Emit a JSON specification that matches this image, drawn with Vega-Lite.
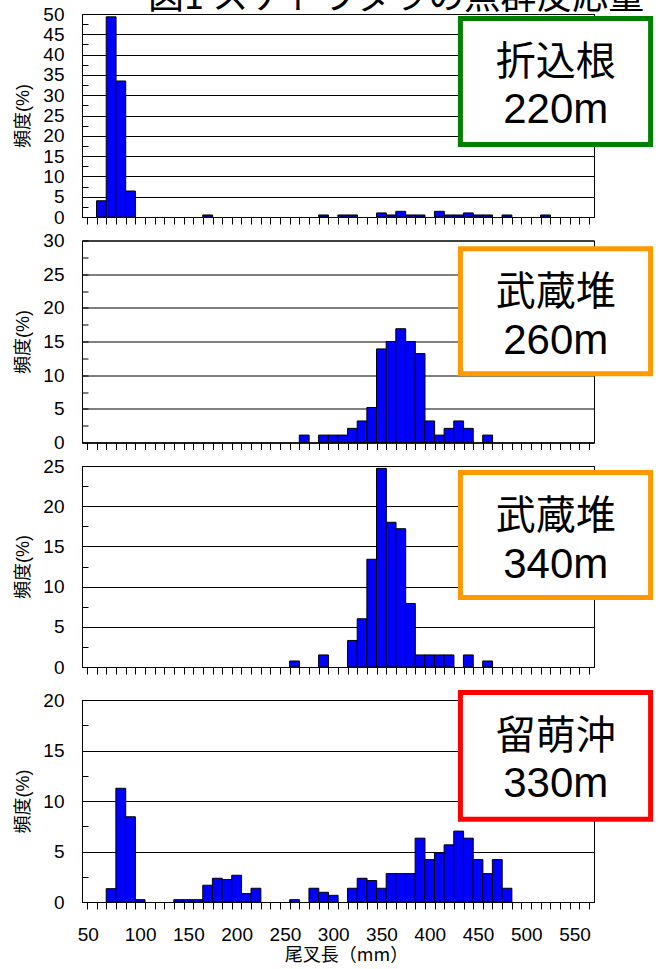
{
  "$schema": "https://vega.github.io/schema/vega-lite/v6.json",
  "padding": {"top": -21, "left": 14, "right": 2, "bottom": 2},
  "config": {
    "view": {"stroke": "#000000", "strokeWidth": 1},
    "axis": {
      "labelFont": "Liberation Sans",
      "labelFontSize": 19,
      "labelColor": "#000000",
      "titleFont": "Liberation Sans, Noto Sans CJK JP",
      "titleFontSize": 18,
      "titleFontWeight": "normal",
      "titleColor": "#000000",
      "domainColor": "#000000",
      "tickColor": "#000000",
      "gridColor": "#000000",
      "tickCount": 1000,
      "format": "d"
    }
  },
  "datasets": {
    "p1": [
      {"len": 60, "pct": 4.0}, {"len": 70, "pct": 49.3}, {"len": 80, "pct": 33.5}, {"len": 90, "pct": 6.4},
      {"len": 170, "pct": 0.5}, {"len": 290, "pct": 0.5}, {"len": 310, "pct": 0.5}, {"len": 320, "pct": 0.5},
      {"len": 350, "pct": 1.0}, {"len": 360, "pct": 0.5}, {"len": 370, "pct": 1.4}, {"len": 380, "pct": 0.5},
      {"len": 390, "pct": 0.5}, {"len": 410, "pct": 1.4}, {"len": 420, "pct": 0.5}, {"len": 430, "pct": 0.5},
      {"len": 440, "pct": 1.0}, {"len": 450, "pct": 0.5}, {"len": 460, "pct": 0.5}, {"len": 480, "pct": 0.5},
      {"len": 520, "pct": 0.5}
    ],
    "p2": [
      {"len": 270, "pct": 1.1}, {"len": 290, "pct": 1.1}, {"len": 300, "pct": 1.1}, {"len": 310, "pct": 1.1},
      {"len": 320, "pct": 2.1}, {"len": 330, "pct": 3.2}, {"len": 340, "pct": 5.2}, {"len": 350, "pct": 13.9},
      {"len": 360, "pct": 15.0}, {"len": 370, "pct": 16.9}, {"len": 380, "pct": 15.0}, {"len": 390, "pct": 13.2},
      {"len": 400, "pct": 3.2}, {"len": 410, "pct": 1.1}, {"len": 420, "pct": 2.1}, {"len": 430, "pct": 3.2},
      {"len": 440, "pct": 2.1}, {"len": 460, "pct": 1.1}
    ],
    "p3": [
      {"len": 260, "pct": 0.75}, {"len": 290, "pct": 1.5}, {"len": 320, "pct": 3.3}, {"len": 330, "pct": 6.0},
      {"len": 340, "pct": 13.4}, {"len": 350, "pct": 24.7}, {"len": 360, "pct": 18.0}, {"len": 370, "pct": 17.2},
      {"len": 380, "pct": 7.9}, {"len": 390, "pct": 1.5}, {"len": 400, "pct": 1.5}, {"len": 410, "pct": 1.5},
      {"len": 420, "pct": 1.5}, {"len": 440, "pct": 1.5}, {"len": 460, "pct": 0.75}
    ],
    "p4": [
      {"len": 70, "pct": 1.32}, {"len": 80, "pct": 11.26}, {"len": 90, "pct": 8.44}, {"len": 100, "pct": 0.23},
      {"len": 140, "pct": 0.23}, {"len": 150, "pct": 0.23}, {"len": 160, "pct": 0.23}, {"len": 170, "pct": 1.66},
      {"len": 180, "pct": 2.35}, {"len": 190, "pct": 2.22}, {"len": 200, "pct": 2.65}, {"len": 210, "pct": 0.83},
      {"len": 220, "pct": 1.36}, {"len": 260, "pct": 0.23}, {"len": 280, "pct": 1.36}, {"len": 290, "pct": 0.96},
      {"len": 300, "pct": 0.66}, {"len": 320, "pct": 1.36}, {"len": 330, "pct": 2.35}, {"len": 340, "pct": 2.12},
      {"len": 350, "pct": 1.36}, {"len": 360, "pct": 2.81}, {"len": 370, "pct": 2.81}, {"len": 380, "pct": 2.81},
      {"len": 390, "pct": 6.32}, {"len": 400, "pct": 4.2}, {"len": 410, "pct": 4.87}, {"len": 420, "pct": 5.66},
      {"len": 430, "pct": 7.02}, {"len": 440, "pct": 6.32}, {"len": 450, "pct": 4.2}, {"len": 460, "pct": 2.81},
      {"len": 470, "pct": 4.2}, {"len": 480, "pct": 1.36}
    ]
  },
  "spacing": 11,
  "vconcat": [
    {
      "spacing": 2.5,
      "vconcat": [
        {
          "width": 512, "height": 203,
          "layer": [
            {
              "data": {"name": "p1"},
              "mark": {"type": "bar", "width": 9.846, "fill": "#0000ff", "stroke": "#000000", "strokeWidth": 1},
              "encoding": {
                "x": {"field": "len", "type": "quantitative", "scale": {"domain": [45, 565], "nice": false, "zero": false},
                  "axis": {"title": null, "labels": false, "grid": false, "tickSize": 7, "tickCount": 1000,
                    "values": [45,55,65,75,85,95,105,115,125,135,145,155,165,175,185,195,205,215,225,235,245,255,265,275,285,295,305,315,325,335,345,355,365,375,385,395,405,415,425,435,445,455,465,475,485,495,505,515,525,535,545,555,565]}},
                "y": {"field": "pct", "type": "quantitative", "scale": {"domain": [0, 50], "nice": false},
                  "axis": {"title": "頻度(%)", "tickCount": 1000, "format": "d", "values": [0,2.5,5,7.5,10,12.5,15,17.5,20,22.5,25,27.5,30,32.5,35,37.5,40,42.5,45,47.5,50],
                    "labelExpr": "datum.value % 5 === 0 ? datum.label : ''", "labelOverlap": false, "labelPadding": 24, "tickSize": -6,
                    "grid": true, "gridOpacity": {"condition": {"test": "datum.value % 5 === 0", "value": 1}, "value": 0}, "titlePadding": 10}}
              }
            },
            {
              "data": {"values": [{"station": "折込根", "depth": "220m"}]},
              "mark": {"type": "rect", "fill": "#ffffff", "stroke": "#008000", "strokeWidth": 5},
              "encoding": {"x": {"datum": 431.8}, "x2": {"datum": 628.8}, "y": {"datum": 48.89}, "y2": {"datum": 17.86}}
            },
            {
              "data": {"values": [{"station": "折込根", "depth": "220m"}]},
              "mark": {"type": "text", "font": "Noto Sans CJK JP", "fontSize": 40, "align": "center", "baseline": "alphabetic", "color": "#000000"},
              "encoding": {"x": {"datum": 530.5}, "y": {"datum": 34.98}, "text": {"field": "station"}}
            },
            {
              "data": {"values": [{"station": "折込根", "depth": "220m"}]},
              "mark": {"type": "text", "font": "Liberation Sans", "fontSize": 42, "align": "center", "baseline": "alphabetic", "color": "#000000"},
              "encoding": {"x": {"datum": 530.5}, "y": {"datum": 23.03}, "text": {"field": "depth"}}
            },
            {
              "data": {"values": [{"title": "図1 スケトウダラの魚群反応量分布と尾叉長組成"}]},
              "mark": {"type": "text", "font": "Noto Sans CJK JP", "fontSize": 36, "align": "left", "baseline": "alphabetic", "limit": 520, "ellipsis": " ", "color": "#000000"},
              "encoding": {"x": {"datum": 108.3}, "y": {"datum": 51.35}, "text": {"field": "title"}}
            }
          ]
        },
        {
          "width": 512, "height": 202,
          "layer": [
            {
              "data": {"name": "p2"},
              "mark": {"type": "bar", "width": 9.846, "fill": "#0000ff", "stroke": "#000000", "strokeWidth": 1},
              "encoding": {
                "x": {"field": "len", "type": "quantitative", "scale": {"domain": [45, 565], "nice": false, "zero": false},
                  "axis": {"title": null, "labels": false, "grid": false, "tickSize": 7, "tickCount": 1000,
                    "values": [45,55,65,75,85,95,105,115,125,135,145,155,165,175,185,195,205,215,225,235,245,255,265,275,285,295,305,315,325,335,345,355,365,375,385,395,405,415,425,435,445,455,465,475,485,495,505,515,525,535,545,555,565]}},
                "y": {"field": "pct", "type": "quantitative", "scale": {"domain": [0, 30], "nice": false},
                  "axis": {"title": "頻度(%)", "tickCount": 1000, "format": "d", "values": [0,2.5,5,7.5,10,12.5,15,17.5,20,22.5,25,27.5,30],
                    "labelExpr": "datum.value % 5 === 0 ? datum.label : ''", "labelOverlap": false, "labelPadding": 24, "tickSize": -6,
                    "grid": true, "gridOpacity": {"condition": {"test": "datum.value % 5 === 0", "value": 1}, "value": 0}, "titlePadding": 10}}
              }
            },
            {
              "data": {"values": [{"station": "武蔵堆", "depth": "260m"}]},
              "mark": {"type": "rect", "fill": "#ffffff", "stroke": "#ff9900", "strokeWidth": 5},
              "encoding": {"x": {"datum": 431.8}, "x2": {"datum": 628.8}, "y": {"datum": 28.78}, "y2": {"datum": 10.22}}
            },
            {
              "data": {"values": [{"station": "武蔵堆", "depth": "260m"}]},
              "mark": {"type": "text", "font": "Noto Sans CJK JP", "fontSize": 40, "align": "center", "baseline": "alphabetic", "color": "#000000"},
              "encoding": {"x": {"datum": 530.5}, "y": {"datum": 20.39}, "text": {"field": "station"}}
            },
            {
              "data": {"values": [{"station": "武蔵堆", "depth": "260m"}]},
              "mark": {"type": "text", "font": "Liberation Sans", "fontSize": 42, "align": "center", "baseline": "alphabetic", "color": "#000000"},
              "encoding": {"x": {"datum": 530.5}, "y": {"datum": 13.19}, "text": {"field": "depth"}}
            }
          ]
        },
        {
          "width": 512, "height": 201,
          "layer": [
            {
              "data": {"name": "p3"},
              "mark": {"type": "bar", "width": 9.846, "fill": "#0000ff", "stroke": "#000000", "strokeWidth": 1},
              "encoding": {
                "x": {"field": "len", "type": "quantitative", "scale": {"domain": [45, 565], "nice": false, "zero": false},
                  "axis": {"title": null, "labels": false, "grid": false, "tickSize": 7, "tickCount": 1000,
                    "values": [45,55,65,75,85,95,105,115,125,135,145,155,165,175,185,195,205,215,225,235,245,255,265,275,285,295,305,315,325,335,345,355,365,375,385,395,405,415,425,435,445,455,465,475,485,495,505,515,525,535,545,555,565]}},
                "y": {"field": "pct", "type": "quantitative", "scale": {"domain": [0, 25], "nice": false},
                  "axis": {"title": "頻度(%)", "tickCount": 1000, "format": "d", "values": [0,2.5,5,7.5,10,12.5,15,17.5,20,22.5,25],
                    "labelExpr": "datum.value % 5 === 0 ? datum.label : ''", "labelOverlap": false, "labelPadding": 24, "tickSize": -6,
                    "grid": true, "gridOpacity": {"condition": {"test": "datum.value % 5 === 0", "value": 1}, "value": 0}, "titlePadding": 10}}
              }
            },
            {
              "data": {"values": [{"station": "武蔵堆", "depth": "340m"}]},
              "mark": {"type": "rect", "fill": "#ffffff", "stroke": "#ff9900", "strokeWidth": 5},
              "encoding": {"x": {"datum": 431.8}, "x2": {"datum": 628.8}, "y": {"datum": 24.19}, "y2": {"datum": 8.64}}
            },
            {
              "data": {"values": [{"station": "武蔵堆", "depth": "340m"}]},
              "mark": {"type": "text", "font": "Noto Sans CJK JP", "fontSize": 40, "align": "center", "baseline": "alphabetic", "color": "#000000"},
              "encoding": {"x": {"datum": 530.5}, "y": {"datum": 17.16}, "text": {"field": "station"}}
            },
            {
              "data": {"values": [{"station": "武蔵堆", "depth": "340m"}]},
              "mark": {"type": "text", "font": "Liberation Sans", "fontSize": 42, "align": "center", "baseline": "alphabetic", "color": "#000000"},
              "encoding": {"x": {"datum": 530.5}, "y": {"datum": 11.13}, "text": {"field": "depth"}}
            }
          ]
        }
      ]
    },
    {
      "width": 512, "height": 202,
      "layer": [
        {
          "data": {"name": "p4"},
          "mark": {"type": "bar", "width": 9.846, "fill": "#0000ff", "stroke": "#000000", "strokeWidth": 1},
          "encoding": {
            "x": {"field": "len", "type": "quantitative", "scale": {"domain": [45, 565], "nice": false, "zero": false},
              "axis": {"title": "尾叉長（mm）", "titleFont": "Noto Sans CJK JP", "titlePadding": 2, "titleX": 264, "grid": false, "tickSize": 7, "tickCount": 1000, "format": "d",
                "labelExpr": "datum.value % 50 === 0 ? datum.label : ''", "labelOverlap": false, "labelFlush": false, "labelPadding": 16,
                "labelOffset": {"condition": {"test": "datum.value === 50", "value": -4}, "value": 0},
                "tickOpacity": {"condition": {"test": "datum.value % 10 === 5", "value": 1}, "value": 0},
                "values": [45,50,55,60,65,70,75,80,85,90,95,100,105,110,115,120,125,130,135,140,145,150,155,160,165,170,175,180,185,190,195,200,205,210,215,220,225,230,235,240,245,250,255,260,265,270,275,280,285,290,295,300,305,310,315,320,325,330,335,340,345,350,355,360,365,370,375,380,385,390,395,400,405,410,415,420,425,430,435,440,445,450,455,460,465,470,475,480,485,490,495,500,505,510,515,520,525,530,535,540,545,550,555,560,565]}},
            "y": {"field": "pct", "type": "quantitative", "scale": {"domain": [0, 20], "nice": false},
              "axis": {"title": "頻度(%)", "tickCount": 1000, "format": "d", "values": [0,2.5,5,7.5,10,12.5,15,17.5,20],
                "labelExpr": "datum.value % 5 === 0 ? datum.label : ''", "labelOverlap": false, "labelPadding": 24, "tickSize": -6,
                "grid": true, "gridOpacity": {"condition": {"test": "datum.value % 5 === 0", "value": 1}, "value": 0}, "titlePadding": 10}}
          }
        },
        {
          "data": {"values": [{"station": "留萌沖", "depth": "330m"}]},
          "mark": {"type": "rect", "fill": "#ffffff", "stroke": "#ff0000", "strokeWidth": 5},
          "encoding": {"x": {"datum": 431.8}, "x2": {"datum": 628.8}, "y": {"datum": 20.74}, "y2": {"datum": 8.2}}
        },
        {
          "data": {"values": [{"station": "留萌沖", "depth": "330m"}]},
          "mark": {"type": "text", "font": "Noto Sans CJK JP", "fontSize": 40, "align": "center", "baseline": "alphabetic", "color": "#000000"},
          "encoding": {"x": {"datum": 530.5}, "y": {"datum": 15.15}, "text": {"field": "station"}}
        },
        {
          "data": {"values": [{"station": "留萌沖", "depth": "330m"}]},
          "mark": {"type": "text", "font": "Liberation Sans", "fontSize": 42, "align": "center", "baseline": "alphabetic", "color": "#000000"},
          "encoding": {"x": {"datum": 530.5}, "y": {"datum": 10.35}, "text": {"field": "depth"}}
        }
      ]
    }
  ]
}
